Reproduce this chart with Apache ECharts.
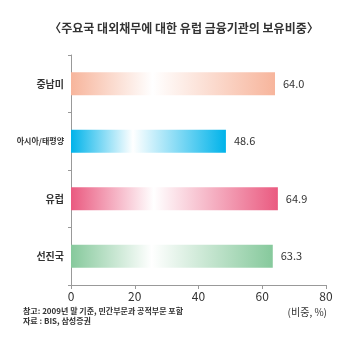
<!DOCTYPE html>
<html>
<head>
<meta charset="utf-8">
<script src="https://cdn.jsdelivr.net/npm/echarts@6/dist/echarts.min.js"></script>
<style>
  html, body { margin: 0; padding: 0; background: #fff; }
  #chart { width: 350px; height: 353px; }
</style>
</head>
<body>
<div id="chart"></div>
<script>
// 지역별 유럽 금융기관 보유비중 (%)
const regions = ['중남미', '아시아/태평양', '유럽', '선진국'];
const shares = [64.0, 48.6, 64.9, 63.3];
const barColors = ['#f7b59c', '#00b3ea', '#ea5a80', '#86c99c'];
const xTicks = [0, 20, 40, 60, 80];

const font = '"Noto Sans CJK KR", "Noto Sans", sans-serif';

const chart = echarts.init(document.getElementById('chart'));

// 좌→흰색→우 그라데이션
const grad = c => new echarts.graphic.LinearGradient(0, 0, 1, 0, [
  { offset: 0, color: c },
  { offset: 0.4, color: '#ffffff' },
  { offset: 1, color: c }
]);

chart.setOption({
  animation: false,
  textStyle: { fontFamily: font },
  title: [
    {
      text: '〈주요국 대외채무에 대한 유럽 금융기관의 보유비중〉',
      left: 179, top: 17, textAlign: 'center',
      textStyle: { fontSize: 12, fontWeight: 'bold', color: '#333', fontFamily: font }
    },
    {
      text: '참고: 2009년 말 기준, 민간부문과 공적부문 포함',
      left: 18, top: 302,
      textStyle: { fontSize: 8, fontWeight: 'bold', color: '#333', fontFamily: font }
    },
    {
      text: '자료 : BIS, 삼성증권',
      left: 18, top: 312,
      textStyle: { fontSize: 8, fontWeight: 'bold', color: '#333', fontFamily: font }
    },
    {
      text: '(비중, %)',
      right: 18, top: 302,
      textStyle: { fontSize: 10, fontWeight: 'normal', color: '#333', fontFamily: font }
    }
  ],
  grid: { left: 71, right: 24, top: 55, bottom: 68 },
  xAxis: {
    type: 'value',
    min: xTicks[0],
    max: xTicks[xTicks.length - 1],
    interval: 20,
    axisLine: { show: true, lineStyle: { color: '#999' } },
    axisTick: { show: true, length: 4, lineStyle: { color: '#999' } },
    splitLine: { show: false },
    axisLabel: { color: '#333', fontSize: 12, margin: 5, fontFamily: font }
  },
  yAxis: {
    type: 'category',
    inverse: true,
    data: regions,
    axisLine: { lineStyle: { color: '#999' } },
    axisTick: { show: true, length: 3, lineStyle: { color: '#999' } },
    axisLabel: {
      color: '#333', fontSize: 10, fontWeight: 'bold', margin: 7, fontFamily: font,
      formatter: v => v.length > 4 ? '{s|' + v + '}' : v,
      rich: { s: { fontSize: 8, fontWeight: 'bold', color: '#333', fontFamily: font } }
    }
  },
  series: [{
    type: 'bar',
    barWidth: 23,
    data: shares.map((v, i) => ({ value: v, itemStyle: { color: grad(barColors[i]) } })),
    label: {
      show: true,
      position: 'right',
      distance: 8,
      color: '#333',
      fontSize: 11,
      fontFamily: font,
      formatter: p => p.value.toFixed(1)
    }
  }]
});
</script>
</body>
</html>
